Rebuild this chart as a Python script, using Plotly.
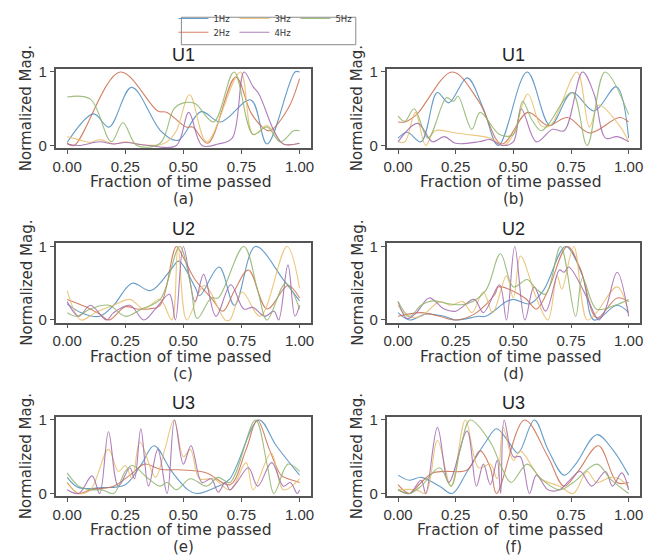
import plotly.graph_objects as go

# ---------------- data: (fraction of time, normalized magnitude) control points ----------------
SERIES = ["1Hz", "2Hz", "3Hz", "4Hz", "5Hz"]
COLORS = ["#4C8DC0", "#CC6E4E", "#E9BE6B", "#A168AE", "#8DB46A"]
X_TICKS = [0, 0.25, 0.5, 0.75, 1.0]
X_TICK_TEXT = ["0.00", "0.25", "0.50", "0.75", "1.00"]
Y_TICKS = [0, 1]
Y_TICK_TEXT = ["0", "1"]
TITLES = ["U1", "U1", "U2", "U2", "U3", "U3"]
PANEL_LABELS = ["(a)", "(b)", "(c)", "(d)", "(e)", "(f)"]
XLABELS = ["Fraction of time passed"] * 5 + ["Fraction of \u00a0time passed"]
YLABEL = "Normalized Mag."

# panel (a) U1
a_1hz = [(0, 0.04), (0.114, 0.43), (0.18, 0.25), (0.277, 0.79), (0.405, 0.19), (0.477, 0.07), (0.576, 0.46), (0.66, 0.32), (0.79, 0.62), (0.86, 0.02), (0.98, 1.0), (1.0, 1.0)]
a_2hz = [(0, 0.03), (0.03, 0.0), (0.228, 1.0), (0.39, 0.47), (0.43, 0.45), (0.512, 0.25), (0.54, 0.25), (0.605, 0.03), (0.725, 0.93), (0.79, 0.45), (0.84, 0.25), (0.87, 0.2), (0.95, 0.5), (1.0, 0.91)]
a_3hz = [(0, 0.12), (0.05, 0.08), (0.1, 0.04), (0.14, 0.08), (0.2, 0.02), (0.25, 0.05), (0.32, 0.01), (0.4, 0.01), (0.43, 0.05), (0.47, 0.2), (0.527, 0.69), (0.6, 0.05), (0.745, 1.0), (0.8, 0.15), (0.86, 0.27), (0.93, 0.02), (1.0, 0.03)]
a_4hz = [(0, 0.02), (0.05, 0.0), (0.14, 0.05), (0.2, 0.02), (0.25, 0.04), (0.35, 0.0), (0.47, 0.0), (0.523, 0.45), (0.58, 0.0), (0.65, 0.02), (0.71, 0.1), (0.761, 1.0), (0.8, 0.8), (0.825, 0.7), (0.89, 0.2), (0.93, 0.02), (1.0, 0.03)]
a_5hz = [(0, 0.66), (0.1, 0.63), (0.19, 0.05), (0.24, 0.31), (0.3, 0.0), (0.4, 0.03), (0.46, 0.5), (0.5, 0.58), (0.55, 0.57), (0.63, 0.32), (0.718, 1.0), (0.8, 0.15), (0.86, 0.25), (0.917, 0.05), (0.975, 0.2), (1.0, 0.2)]

# panel (b) U1
b_1hz = [(0, 0.1), (0.04, 0.18), (0.1, 0.05), (0.17, 0.72), (0.22, 0.58), (0.3, 0.92), (0.37, 0.5), (0.435, 0.0), (0.56, 1.0), (0.66, 0.27), (0.755, 0.72), (0.85, 0.47), (0.947, 0.8), (1.0, 0.1)]
b_2hz = [(0, 0.32), (0.03, 0.32), (0.08, 0.42), (0.235, 1.0), (0.35, 0.6), (0.45, 0.02), (0.563, 0.45), (0.65, 0.27), (0.735, 0.38), (0.83, 0.17), (0.96, 0.38), (1.0, 0.32)]
b_3hz = [(0, 0.05), (0.03, 0.05), (0.075, 0.45), (0.12, 0.0), (0.16, 0.2), (0.25, 0.17), (0.3, 0.15), (0.4, 0.1), (0.46, 0.0), (0.5, 0.15), (0.563, 0.7), (0.62, 0.27), (0.66, 0.27), (0.776, 1.0), (0.83, 0.25), (0.87, 0.55), (0.96, 0.27), (1.0, 0.05)]
b_4hz = [(0, 0.05), (0.085, 0.3), (0.15, 0.05), (0.2, 0.12), (0.25, 0.03), (0.35, 0.05), (0.4, 0.08), (0.45, 0.0), (0.5, 0.05), (0.534, 0.5), (0.6, 0.05), (0.67, 0.22), (0.72, 0.2), (0.8, 1.0), (0.85, 0.7), (0.9, 0.1), (0.95, 0.12), (1.0, 0.05)]
b_5hz = [(0, 0.4), (0.03, 0.33), (0.07, 0.5), (0.13, 0.1), (0.21, 0.65), (0.24, 0.6), (0.26, 0.67), (0.32, 0.22), (0.356, 0.45), (0.44, 0.15), (0.5, 0.15), (0.54, 0.6), (0.58, 0.35), (0.62, 0.2), (0.65, 0.28), (0.755, 0.72), (0.82, 0.0), (0.897, 1.0), (1.0, 0.42)]

# panel (c) U2
c_1hz = [(0, 0.22), (0.06, 0.1), (0.14, 0.05), (0.2, 0.2), (0.28, 0.5), (0.36, 0.4), (0.45, 0.7), (0.48, 0.8), (0.55, 0.45), (0.57, 0.33), (0.654, 0.72), (0.72, 0.2), (0.81, 1.0), (0.93, 0.55), (1.0, 0.26)]
c_2hz = [(0, 0.28), (0.08, 0.18), (0.14, 0.08), (0.18, 0.0), (0.25, 0.18), (0.3, 0.15), (0.35, 0.15), (0.4, 0.2), (0.47, 1.0), (0.5, 0.85), (0.55, 0.55), (0.62, 0.3), (0.67, 0.12), (0.72, 0.4), (0.78, 0.68), (0.86, 0.15), (0.95, 0.47), (1.0, 0.3)]
c_3hz = [(0, 0.4), (0.06, 0.0), (0.12, 0.1), (0.2, 0.2), (0.27, 0.28), (0.33, 0.15), (0.4, 0.28), (0.45, 0.0), (0.477, 1.0), (0.515, 0.0), (0.59, 0.47), (0.68, 0.0), (0.7, 0.0), (0.753, 0.38), (0.83, 0.05), (0.946, 1.0), (1.0, 0.43)]
c_4hz = [(0, 0.25), (0.05, 0.05), (0.1, 0.2), (0.17, 0.0), (0.2, 0.1), (0.27, 0.2), (0.33, 0.0), (0.38, 0.15), (0.44, 0.35), (0.466, 0.0), (0.5, 1.0), (0.55, 0.25), (0.587, 0.62), (0.64, 0.05), (0.704, 0.48), (0.76, 0.15), (0.8, 0.17), (0.85, 0.05), (0.89, 0.12), (0.91, 0.0), (0.95, 0.75), (0.98, 0.05), (1.0, 0.2)]
c_5hz = [(0, 0.1), (0.04, 0.05), (0.1, 0.15), (0.18, 0.2), (0.25, 0.05), (0.32, 0.15), (0.4, 0.28), (0.484, 1.0), (0.53, 0.5), (0.56, 0.02), (0.62, 0.3), (0.65, 0.3), (0.76, 1.0), (0.82, 0.4), (0.86, 0.0), (0.94, 0.5), (1.0, 0.15)]

# panel (d) U2
d_1hz = [(0, 0.1), (0.05, 0.0), (0.12, 0.08), (0.2, 0.05), (0.25, 0.0), (0.35, 0.05), (0.38, 0.05), (0.47, 0.25), (0.5, 0.28), (0.57, 0.22), (0.63, 0.4), (0.727, 1.0), (0.8, 0.6), (0.85, 0.0), (0.95, 0.2), (1.0, 0.1)]
d_2hz = [(0, 0.05), (0.1, 0.1), (0.18, 0.05), (0.25, 0.0), (0.33, 0.08), (0.42, 0.35), (0.435, 0.45), (0.55, 0.3), (0.6, 0.15), (0.65, 0.4), (0.734, 1.0), (0.79, 0.7), (0.862, 0.03), (0.95, 0.3), (1.0, 0.25)]
d_3hz = [(0, 0.2), (0.04, 0.05), (0.1, 0.05), (0.18, 0.25), (0.23, 0.2), (0.28, 0.25), (0.32, 0.1), (0.37, 0.38), (0.41, 0.1), (0.47, 0.6), (0.5, 0.3), (0.531, 0.87), (0.6, 0.3), (0.65, 0.0), (0.69, 0.6), (0.71, 0.42), (0.762, 1.0), (0.82, 0.0), (0.86, 0.1), (0.95, 0.45), (1.0, 0.1)]
d_4hz = [(0, 0.25), (0.04, 0.02), (0.08, 0.1), (0.135, 0.3), (0.2, 0.15), (0.25, 0.12), (0.33, 0.28), (0.37, 0.1), (0.44, 0.48), (0.47, 0.0), (0.506, 1.0), (0.55, 0.0), (0.59, 0.45), (0.64, 0.12), (0.7, 0.68), (0.72, 0.65), (0.74, 0.72), (0.82, 0.3), (0.87, 0.0), (0.9, 0.15), (0.95, 0.65), (1.0, 0.05)]
d_5hz = [(0, 0.25), (0.05, 0.05), (0.1, 0.2), (0.15, 0.26), (0.22, 0.22), (0.3, 0.22), (0.38, 0.4), (0.444, 0.9), (0.5, 0.45), (0.56, 0.55), (0.6, 0.42), (0.64, 0.35), (0.705, 1.0), (0.77, 0.05), (0.8, 0.57), (0.86, 0.15), (0.94, 0.2), (1.0, 0.28)]

# panel (e) U3
e_1hz = [(0, 0.22), (0.05, 0.08), (0.15, 0.08), (0.25, 0.12), (0.32, 0.4), (0.374, 0.65), (0.45, 0.3), (0.52, 0.05), (0.56, 0.0), (0.65, 0.1), (0.7, 0.2), (0.825, 1.0), (0.9, 0.65), (1.0, 0.25)]
e_2hz = [(0, 0.15), (0.05, 0.0), (0.1, 0.05), (0.2, 0.1), (0.27, 0.25), (0.334, 0.4), (0.4, 0.33), (0.5, 0.32), (0.6, 0.28), (0.7, 0.12), (0.77, 0.6), (0.818, 1.0), (0.87, 0.6), (0.92, 0.25), (0.95, 0.2), (1.0, 0.15)]
e_3hz = [(0, 0.15), (0.05, 0.0), (0.1, 0.05), (0.178, 0.6), (0.22, 0.3), (0.25, 0.38), (0.28, 0.2), (0.313, 0.7), (0.38, 0.22), (0.42, 0.6), (0.46, 1.0), (0.5, 0.5), (0.53, 0.6), (0.57, 0.2), (0.63, 0.2), (0.7, 0.05), (0.77, 0.42), (0.8, 0.05), (0.878, 0.55), (0.93, 0.05), (1.0, 0.2)]
e_4hz = [(0, 0.05), (0.05, 0.0), (0.107, 0.24), (0.14, 0.0), (0.178, 0.84), (0.22, 0.1), (0.27, 0.35), (0.29, 0.2), (0.317, 0.88), (0.35, 0.1), (0.39, 0.6), (0.43, 0.0), (0.462, 1.0), (0.5, 0.4), (0.533, 0.65), (0.58, 0.15), (0.62, 0.2), (0.65, 0.02), (0.68, 0.15), (0.7, 0.05), (0.73, 0.15), (0.78, 0.35), (0.82, 0.1), (0.88, 0.42), (0.93, 0.1), (0.96, 0.15), (0.99, 0.0), (1.0, 0.05)]
e_5hz = [(0, 0.28), (0.05, 0.1), (0.1, 0.05), (0.15, 0.05), (0.2, 0.0), (0.25, 0.3), (0.28, 0.38), (0.35, 0.2), (0.4, 0.1), (0.43, 0.15), (0.47, 0.05), (0.53, 0.2), (0.6, 0.1), (0.65, 0.22), (0.7, 0.15), (0.81, 1.0), (0.86, 0.4), (0.89, 0.0), (0.95, 0.4), (1.0, 0.3)]

# panel (f) U3
f_1hz = [(0, 0.25), (0.05, 0.18), (0.1, 0.22), (0.18, 0.1), (0.235, 0.0), (0.3, 0.3), (0.38, 0.7), (0.427, 0.88), (0.48, 0.7), (0.52, 0.55), (0.591, 1.0), (0.65, 0.6), (0.72, 0.25), (0.77, 0.4), (0.862, 0.8), (0.93, 0.6), (1.0, 0.25)]
f_2hz = [(0, 0.12), (0.05, 0.0), (0.1, 0.15), (0.15, 0.28), (0.2, 0.3), (0.3, 0.32), (0.356, 0.58), (0.4, 0.35), (0.427, 0.0), (0.548, 1.0), (0.65, 0.5), (0.72, 0.1), (0.78, 0.3), (0.869, 0.65), (0.95, 0.15), (1.0, 0.15)]
f_3hz = [(0, 0.05), (0.08, 0.05), (0.12, 0.0), (0.171, 0.72), (0.23, 0.1), (0.292, 1.0), (0.35, 0.35), (0.4, 0.4), (0.43, 0.2), (0.456, 0.9), (0.5, 0.45), (0.53, 0.58), (0.62, 0.2), (0.7, 0.1), (0.76, 0.0), (0.82, 0.3), (0.86, 0.15), (0.92, 0.22), (0.96, 0.2), (1.0, 0.08)]
f_4hz = [(0, 0.05), (0.05, 0.0), (0.1, 0.18), (0.12, 0.0), (0.171, 0.9), (0.22, 0.15), (0.299, 0.85), (0.34, 0.1), (0.37, 0.4), (0.4, 0.12), (0.43, 0.45), (0.445, 0.0), (0.46, 1.0), (0.5, 0.5), (0.53, 0.5), (0.57, 0.0), (0.6, 0.25), (0.65, 0.05), (0.7, 0.05), (0.75, 0.2), (0.79, 0.3), (0.84, 0.1), (0.9, 0.3), (0.93, 0.1), (0.97, 0.28), (1.0, 0.05)]
f_5hz = [(0, 0.05), (0.05, 0.0), (0.1, 0.1), (0.18, 0.35), (0.23, 0.1), (0.27, 0.6), (0.313, 1.0), (0.4, 0.7), (0.45, 0.35), (0.49, 0.15), (0.56, 0.4), (0.62, 0.2), (0.7, 0.05), (0.76, 0.15), (0.862, 0.4), (0.92, 0.2), (1.0, 0.0)]

PANELS = [
    [a_1hz, a_2hz, a_3hz, a_4hz, a_5hz],
    [b_1hz, b_2hz, b_3hz, b_4hz, b_5hz],
    [c_1hz, c_2hz, c_3hz, c_4hz, c_5hz],
    [d_1hz, d_2hz, d_3hz, d_4hz, d_5hz],
    [e_1hz, e_2hz, e_3hz, e_4hz, e_5hz],
    [f_1hz, f_2hz, f_3hz, f_4hz, f_5hz],
]

# ---------------- layout geometry (pixels) ----------------
W, H = 665, 560
COL_BOX = [(53, 311), (387, 643)]
ROW_BOX = [(65, 146), (243, 324), (420, 501)]
LEGEND_OF = {"1Hz": "legend", "3Hz": "legend", "5Hz": "legend", "2Hz": "legend2", "4Hz": "legend2"}

def px_x(p):
    return p / W

def px_y(p):
    return 1 - p / H

fig = go.Figure()
annotations = []
AX_FONT = "Liberation Sans"
LBL_FONT = "DejaVu Sans"
TXT = "#333333"

for i, panel in enumerate(PANELS):
    r, c = divmod(i, 2)
    n = i + 1
    xa = "x" if n == 1 else f"x{n}"
    ya = "y" if n == 1 else f"y{n}"
    for s, pts in enumerate(panel):
        name = SERIES[s]
        fig.add_trace(go.Scatter(
            x=[p[0] for p in pts], y=[p[1] for p in pts],
            mode="lines", name=name,
            line=dict(color=COLORS[s], width=1.1, shape="spline", smoothing=1.0),
            opacity=0.85,
            xaxis=xa, yaxis=ya,
            showlegend=(i == 0), legend=LEGEND_OF[name],
        ))
    x0, x1 = COL_BOX[c]
    y0, y1 = ROW_BOX[r]
    axis_common = dict(showline=True, mirror=True, linecolor="#555555", linewidth=1.5,
                       ticks="outside", ticklen=4, tickcolor="#555555", tickwidth=1,
                       showgrid=False, zeroline=False,
                       tickfont=dict(family=AX_FONT, size=15, color=TXT))
    fig.layout[("xaxis" if n == 1 else f"xaxis{n}")] = dict(
        domain=[px_x(x0), px_x(x1)], anchor=ya, range=[-0.05, 1.05],
        tickvals=X_TICKS, ticktext=X_TICK_TEXT, **axis_common)
    fig.layout[("yaxis" if n == 1 else f"yaxis{n}")] = dict(
        domain=[px_y(y1), px_y(y0)], anchor=xa, range=[-0.036, 1.044],
        tickvals=Y_TICKS, ticktext=Y_TICK_TEXT, **axis_common)

    cx = (x0 + x1) / 2
    annotations.append(dict(text=TITLES[i], x=px_x(cx), y=px_y(y0 - 14.5), xref="paper", yref="paper",
                            xanchor="center", yanchor="middle", showarrow=False,
                            font=dict(family=AX_FONT, size=18, color="#222222")))
    annotations.append(dict(text=XLABELS[i], x=px_x(cx - 3), y=px_y(y1 + 35), xref="paper", yref="paper",
                            xanchor="center", yanchor="middle", showarrow=False,
                            font=dict(family=LBL_FONT, size=15.5, color=TXT)))
    annotations.append(dict(text=PANEL_LABELS[i], x=px_x(cx), y=px_y(y1 + 52), xref="paper", yref="paper",
                            xanchor="center", yanchor="middle", showarrow=False,
                            font=dict(family=LBL_FONT, size=15, color=TXT)))
    annotations.append(dict(text=YLABEL, x=px_x(x0 - 29), y=px_y((y0 + y1) / 2), xref="paper", yref="paper",
                            xanchor="center", yanchor="middle", showarrow=False, textangle=-90,
                            font=dict(family=LBL_FONT, size=15, color=TXT)))

legend_common = dict(orientation="h", xanchor="left", yanchor="top",
                     font=dict(family=LBL_FONT, size=8.5, color=TXT),
                     bgcolor="rgba(0,0,0,0)", borderwidth=0,
                     entrywidth=16, entrywidthmode="pixels", itemwidth=30)

fig.update_layout(
    width=W, height=H,
    margin=dict(l=0, r=0, t=0, b=0),
    paper_bgcolor="white", plot_bgcolor="white",
    annotations=annotations,
    legend=dict(x=px_x(172), y=px_y(-1), **legend_common),
    legend2=dict(x=px_x(172), y=px_y(13), **legend_common),
    shapes=[dict(type="rect", xref="paper", yref="paper",
                 x0=px_x(180), x1=px_x(356), y0=px_y(40.5), y1=px_y(12.5),
                 line=dict(color="#8a8a8a", width=1), fillcolor="rgba(0,0,0,0)")],
)

fig.write_html("out.html")
